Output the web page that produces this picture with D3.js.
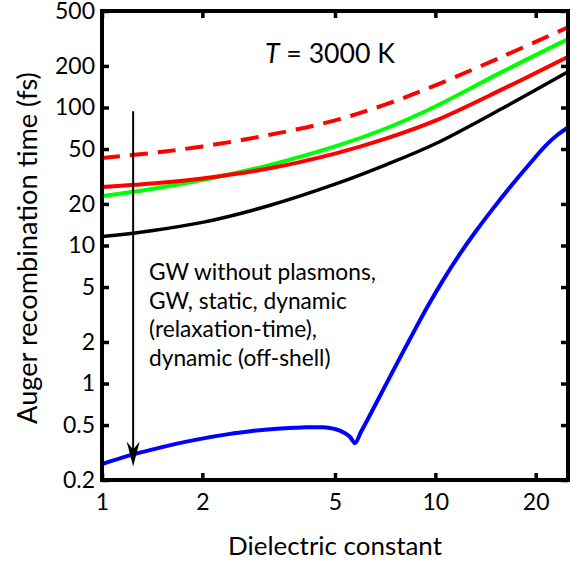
<!DOCTYPE html>
<html>
<head>
<meta charset="utf-8">
<script src="https://cdn.jsdelivr.net/npm/d3@7"></script>
<style>
  body { margin: 0; background: #fff; }
  text { font-family: Lato, "Open Sans", sans-serif; fill: #000; }
</style>
</head>
<body>
<div id="plot"></div>
<script>
// dielectric constant grid used by the four smooth curves
const epsGrid = [1, 1.41, 2, 3.16, 5, 7.1, 10, 15.8, 25];
const gwNoPlasmons = [43.1, 46.8, 52.2, 63.1, 80.6, 105.3, 144.6, 232.3, 381];
const gwValues = [22.8, 25.7, 29.8, 38.1, 52.2, 70.4, 101.7, 180.3, 312.6];
const staticValues = [26.5, 28.1, 30.6, 36.1, 46.3, 59.4, 80.2, 134.6, 233.4];
const relaxValues = [11.6, 12.8, 14.7, 19.4, 27.8, 38.4, 54.6, 97.9, 181.4];

// off-shell curve has its own grid (dip near 5.7)
const offShellEps = [1, 1.188, 1.413, 1.679, 1.995, 2.371, 2.818, 3.349, 3.98, 4.57, 5.03, 5.36, 5.55, 5.74,
  5.98, 6.23, 6.82, 7.46, 8.39, 9.44, 10.54, 11.85, 13.33, 14.89, 16.74, 19.22, 21.61, 23.32, 25];
const offShellValues = [0.261, 0.298, 0.332, 0.367, 0.399, 0.428, 0.453, 0.47, 0.48, 0.482, 0.466, 0.436, 0.41, 0.37,
  0.445, 0.535, 0.812, 1.23, 2.1, 3.55, 5.59, 8.69, 13, 18.5, 26.4, 39.3, 54, 63.7, 71.6];

const xTicks = [1, 2, 5, 10, 20];
const yTicks = [0.2, 0.5, 1, 2, 5, 10, 20, 50, 100, 200, 500];

const labelLines = ["GW without plasmons,", "GW, static, dynamic", "(relaxation-time),", "dynamic (off-shell)"];

// arrow annotation: x position and y span in data units
const arrowEps = 1.24;
const arrowFrom = 94;
const arrowTo = 0.25;

drawPlot();

// scale a text's font so that it spans the wanted width
function fitFont(sel, target) {
  sel.style("font-size", "20px");
  const w = sel.node().getComputedTextLength();
  const size = (20 * target) / w;
  sel.style("font-size", size + "px");
  return size;
}

function drawPlot() {
  const width = 584;
  const height = 563;
  const left = 102;
  const right = 568;
  const top = 11;
  const bottom = 480;

  const svg = d3
    .select("#plot")
    .append("svg")
    .attr("width", width)
    .attr("height", height);

  const x = d3.scaleLog().domain([1, 25]).range([left, right]);
  const y = d3.scaleLog().domain([0.2, 500]).range([bottom, top]);

  const series = [
    { eps: epsGrid, vals: gwNoPlasmons, color: "#ff0000", w: 4, dash: "18,10" },
    { eps: epsGrid, vals: gwValues, color: "#00ff00", w: 4, dash: null },
    { eps: epsGrid, vals: staticValues, color: "#ff0000", w: 4, dash: null },
    { eps: epsGrid, vals: relaxValues, color: "#000000", w: 3.5, dash: null },
    { eps: offShellEps, vals: offShellValues, color: "#0000ff", w: 4, dash: null },
  ];

  const line = d3
    .line()
    .x((d) => x(d[0]))
    .y((d) => y(d[1]))
    .curve(d3.curveCatmullRom.alpha(0.5));

  svg.append("clipPath")
    .attr("id", "clip")
    .append("rect")
    .attr("x", left)
    .attr("y", top)
    .attr("width", right - left)
    .attr("height", bottom - top);

  const curves = svg.append("g").attr("clip-path", "url(#clip)");

  series.forEach(function (s) {
    const pts = s.eps.map((e, i) => [e, s.vals[i]]);
    curves
      .append("path")
      .datum(pts)
      .attr("d", line)
      .attr("fill", "none")
      .attr("stroke", s.color)
      .attr("stroke-width", s.w)
      .attr("stroke-dasharray", s.dash);
  });

  // tick label size taken from the width of "500"
  const probe = svg.append("text").text("500");
  const tickSize = fitFont(probe, 40);
  probe.remove();

  // axes, ticks pointing inward
  const fmtY = (d) => (d < 1 ? d3.format(".1f")(d) : d3.format("d")(d));

  const xAxis = d3.axisBottom(x).tickValues(xTicks).tickFormat(d3.format("d")).tickSize(-7).tickPadding(14);
  const yAxis = d3.axisLeft(y).tickValues(yTicks).tickFormat(fmtY).tickSize(-7).tickPadding(7);
  const xTop = d3.axisTop(x).tickValues(xTicks).tickFormat("").tickSize(-7);
  const yRight = d3.axisRight(y).tickValues(yTicks).tickFormat("").tickSize(-7);

  const gx = svg.append("g").attr("transform", `translate(0, ${bottom})`).call(xAxis);
  const gy = svg.append("g").attr("transform", `translate(${left}, 0)`).call(yAxis);
  const gt = svg.append("g").attr("transform", `translate(0, ${top})`).call(xTop);
  const gr = svg.append("g").attr("transform", `translate(${right}, 0)`).call(yRight);

  [gx, gy, gt, gr].forEach(function (g) {
    g.select(".domain").remove();
    g.selectAll(".tick line").attr("stroke", "#000").attr("stroke-width", 3.5);
    g.selectAll(".tick text")
      .style("font-size", tickSize + "px")
      .style("font-family", "Lato, sans-serif")
      .attr("fill", "#000");
  });

  svg
    .append("rect")
    .attr("x", left)
    .attr("y", top)
    .attr("width", right - left)
    .attr("height", bottom - top)
    .attr("fill", "none")
    .attr("stroke", "#000")
    .attr("stroke-width", 4);

  // axis titles
  const xTitle = svg
    .append("text")
    .attr("x", 335)
    .attr("y", 555)
    .attr("text-anchor", "middle")
    .text("Dielectric constant");
  fitFont(xTitle, 214);

  const yTitle = svg
    .append("text")
    .attr("transform", `translate(37, 248) rotate(-90)`)
    .attr("text-anchor", "middle")
    .text("Auger recombination time (fs)");
  fitFont(yTitle, 352);

  // temperature label
  const tLabel = svg
    .append("text")
    .attr("x", 265)
    .attr("y", 63);
  tLabel.append("tspan").style("font-style", "italic").text("T");
  tLabel.append("tspan").text(" = 3000 K");
  fitFont(tLabel, 130);

  // arrow and list of methods
  const ax = x(arrowEps);
  svg
    .append("line")
    .attr("x1", ax)
    .attr("x2", ax)
    .attr("y1", y(arrowFrom))
    .attr("y2", y(arrowTo) - 12)
    .attr("stroke", "#000")
    .attr("stroke-width", 2);

  const tipY = y(arrowTo);
  svg
    .append("path")
    .attr("d", `M${ax},${tipY} L${ax - 6.5},${tipY - 25} L${ax},${tipY - 17} L${ax + 6.5},${tipY - 25} Z`)
    .attr("fill", "#000");

  const methods = svg
    .selectAll(".method")
    .data(labelLines)
    .enter()
    .append("text")
    .attr("class", "method")
    .attr("x", 149)
    .attr("y", (d, i) => 280 + i * 28.5)
    .text((d) => d);
  const mSize = fitFont(methods.filter((d, i) => i === 0), 227);
  methods.style("font-size", mSize + "px");
}
</script>
</body>
</html>
